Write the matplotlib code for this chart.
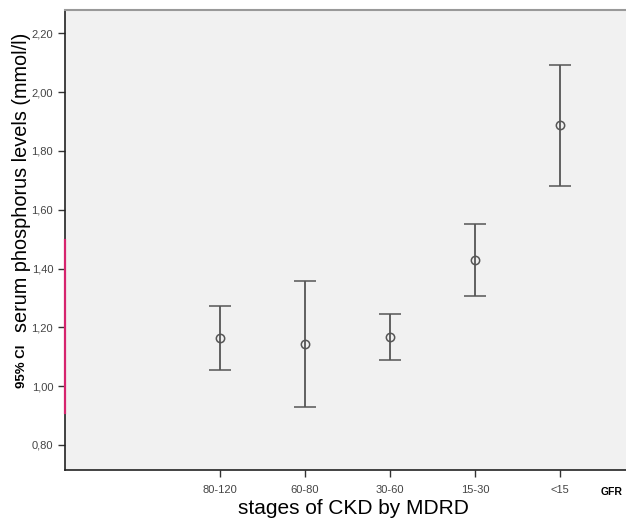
import numpy as np
import matplotlib
matplotlib.use('Agg')
import matplotlib.pyplot as plt
from matplotlib.ticker import FuncFormatter

plt.rcParams['font.family'] = ['Liberation Sans', 'DejaVu Sans']

# datos
etapas = ['80-120', '60-80', '30-60', '15-30', '<15']
media = [1.164, 1.144, 1.168, 1.429, 1.887]
ic_bajo = [1.055, 0.928, 1.090, 1.307, 1.682]
ic_alto = [1.274, 1.359, 1.247, 1.553, 2.092]
yticks = [0.80, 1.00, 1.20, 1.40, 1.60, 1.80, 2.00, 2.20]

fig = plt.figure(figsize=(6.26, 5.26), dpi=100)
ax = fig.add_axes([65/626, 56/526, 561/626, 460/526])
ax.set_facecolor('#f1f1f1')

x = np.arange(len(etapas))
media = np.array(media)
err = [media - np.array(ic_bajo), np.array(ic_alto) - media]
ax.errorbar(x, media, yerr=err, fmt='o', mfc='none', mec='#555555', ms=6, mew=1.1,
            ecolor='#555555', elinewidth=1.3, capsize=8, capthick=1.3)

ax.set_xlim(-1.824, 4.776)
ax.set_ylim(0.715, 2.279)
ax.set_xticks(x)
ax.set_xticklabels(etapas)
ax.set_yticks(yticks)
ax.yaxis.set_major_formatter(FuncFormatter(lambda v, p: ('%.2f' % v).replace('.', ',')))
ax.tick_params(axis='both', labelsize=8, labelcolor='#444444', color='#333333',
               length=5, width=1, direction='out')
ax.tick_params(axis='x', pad=6)

for s in ['left', 'bottom']:
    ax.spines[s].set_color('#222222')
    ax.spines[s].set_linewidth(1.2)
ax.spines['top'].set_color('#999999')
ax.spines['top'].set_linewidth(1.5)
ax.spines['right'].set_visible(False)

# linea rosa sobre el eje
ax.axvline(-1.824, ymin=0.124, ymax=0.5, color='#d6246e', lw=1.6, clip_on=False, zorder=10)

fig.text(353/626, 1 - 508/526, 'stages of CKD by MDRD', fontsize=15, ha='center', va='center')
fig.text(612/626, 1 - 492/526, 'GFR', fontsize=7.5, fontweight='bold', ha='center', va='center')
fig.text(22/626, 1 - 182/526, 'serum phosphorus levels (mmol/l)', fontsize=14.3, rotation=90,
         ha='center', va='center')
fig.text(22/626, 1 - 366/526, '95% CI', fontsize=9.5, fontweight='bold', rotation=90,
         ha='center', va='center')

plt.savefig('out.png', dpi=100)
